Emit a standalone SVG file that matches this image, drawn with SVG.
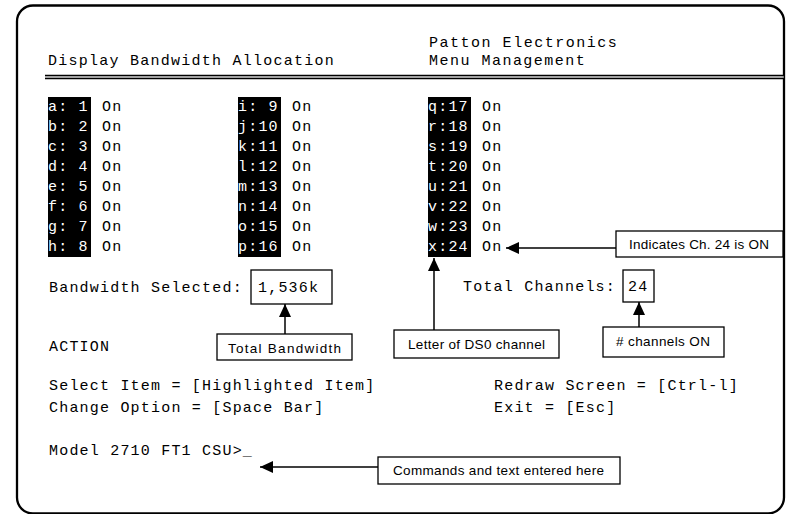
<svg xmlns="http://www.w3.org/2000/svg" width="787" height="514" viewBox="0 0 787 514">
<style>
.m{font-family:"Liberation Mono","Courier New",monospace;font-size:15px;letter-spacing:1.2px;fill:#000}
.w{font-family:"Liberation Mono","Courier New",monospace;font-size:15px;letter-spacing:1.2px;fill:#fff}
.s{font-family:"Liberation Sans",Arial,sans-serif;font-size:13.5px;fill:#000}
.box{fill:#fff;stroke:#000;stroke-width:1.3}
.ln{stroke:#000;stroke-width:1.5;fill:none}
.blk{fill:#000}
</style>
<defs>
<marker id="ah" markerUnits="userSpaceOnUse" markerWidth="14" markerHeight="12" refX="13" refY="6" orient="auto">
<path d="M0,0 L13,6 L0,12 Z" fill="#000"/>
</marker>
</defs>
<rect x="0" y="0" width="787" height="514" fill="#fff"/>
<g id="frame">
<rect x="17" y="5.5" width="767" height="508" rx="16" fill="none" stroke="#000" stroke-width="2.3"/>
<line x1="45" y1="75.5" x2="784" y2="75.5" stroke="#000" stroke-width="1.4"/>
<line x1="45" y1="78.5" x2="784" y2="78.5" stroke="#000" stroke-width="1.4"/>
<line x1="45" y1="77" x2="784" y2="77" stroke="#999" stroke-width="1.5"/>
</g>
<g id="header">
<text class="m" x="48" y="65" textLength="287">Display Bandwidth Allocation</text>
<text class="m" x="429" y="47" textLength="189">Patton Electronics</text>
<text class="m" x="429" y="65" textLength="157">Menu Management</text>
</g>
<g id="channels-col1">
<rect class="blk" x="48" y="97" width="43" height="160"/>
<text class="w" x="48" y="111">a: 1</text><text class="m" x="102" y="111">On</text>
<text class="w" x="48" y="131">b: 2</text><text class="m" x="102" y="131">On</text>
<text class="w" x="48" y="151">c: 3</text><text class="m" x="102" y="151">On</text>
<text class="w" x="48" y="171">d: 4</text><text class="m" x="102" y="171">On</text>
<text class="w" x="48" y="191">e: 5</text><text class="m" x="102" y="191">On</text>
<text class="w" x="48" y="211">f: 6</text><text class="m" x="102" y="211">On</text>
<text class="w" x="48" y="231">g: 7</text><text class="m" x="102" y="231">On</text>
<text class="w" x="48" y="251">h: 8</text><text class="m" x="102" y="251">On</text>
</g>
<g id="channels-col2">
<rect class="blk" x="238" y="97" width="43" height="160"/>
<text class="w" x="238" y="111">i: 9</text><text class="m" x="292" y="111">On</text>
<text class="w" x="238" y="131">j:10</text><text class="m" x="292" y="131">On</text>
<text class="w" x="238" y="151">k:11</text><text class="m" x="292" y="151">On</text>
<text class="w" x="238" y="171">l:12</text><text class="m" x="292" y="171">On</text>
<text class="w" x="238" y="191">m:13</text><text class="m" x="292" y="191">On</text>
<text class="w" x="238" y="211">n:14</text><text class="m" x="292" y="211">On</text>
<text class="w" x="238" y="231">o:15</text><text class="m" x="292" y="231">On</text>
<text class="w" x="238" y="251">p:16</text><text class="m" x="292" y="251">On</text>
</g>
<g id="channels-col3">
<rect class="blk" x="428" y="97" width="43" height="160"/>
<text class="w" x="428" y="111">q:17</text><text class="m" x="482" y="111">On</text>
<text class="w" x="428" y="131">r:18</text><text class="m" x="482" y="131">On</text>
<text class="w" x="428" y="151">s:19</text><text class="m" x="482" y="151">On</text>
<text class="w" x="428" y="171">t:20</text><text class="m" x="482" y="171">On</text>
<text class="w" x="428" y="191">u:21</text><text class="m" x="482" y="191">On</text>
<text class="w" x="428" y="211">v:22</text><text class="m" x="482" y="211">On</text>
<text class="w" x="428" y="231">w:23</text><text class="m" x="482" y="231">On</text>
<text class="w" x="428" y="251">x:24</text><text class="m" x="482" y="251">On</text>
</g>
<g id="bandwidth">
<text class="m" x="49" y="292">Bandwidth Selected:</text>
<rect class="box" x="251" y="270" width="81" height="34"/>
<text class="m" x="258" y="292">1,536k</text>
</g>
<g id="total-channels">
<text class="m" x="463" y="291">Total Channels:</text>
<rect class="box" x="623" y="270" width="31" height="32"/>
<text class="m" x="628" y="291">24</text>
</g>
<g id="menu">
<text class="m" x="49" y="351">ACTION</text>
<text class="m" x="49" y="390">Select Item = [Highlighted Item]</text>
<text class="m" x="49" y="412">Change Option = [Space Bar]</text>
<text class="m" x="494" y="390">Redraw Screen = [Ctrl-l]</text>
<text class="m" x="494" y="412">Exit = [Esc]</text>
<text class="m" x="49" y="455">Model 2710 FT1 CSU&gt;_</text>
</g>
<g id="note-total-bandwidth">
<rect class="box" x="217" y="334" width="135" height="26"/>
<text class="s" x="228" y="353" textLength="113" lengthAdjust="spacing">Total Bandwidth</text>
</g>
<g id="note-letter">
<rect class="box" x="394" y="330" width="165" height="28"/>
<text class="s" x="408" y="349" textLength="137" lengthAdjust="spacing">Letter of DS0 channel</text>
</g>
<g id="note-channels-on">
<rect class="box" x="603" y="327" width="121" height="30"/>
<text class="s" x="616" y="346" textLength="94" lengthAdjust="spacing"># channels ON</text>
</g>
<g id="note-indicates">
<rect class="box" x="616" y="231" width="167" height="26"/>
<text class="s" x="629" y="249" textLength="140" lengthAdjust="spacing">Indicates Ch. 24 is ON</text>
</g>
<g id="note-commands">
<rect class="box" x="378" y="457" width="242" height="27"/>
<text class="s" x="393" y="475" textLength="211" lengthAdjust="spacing">Commands and text entered here</text>
</g>
<g id="connectors">
<line class="ln" x1="285" y1="334" x2="285" y2="304" marker-end="url(#ah)"/>
<line class="ln" x1="434" y1="330" x2="434" y2="258" marker-end="url(#ah)"/>
<line class="ln" x1="639" y1="327" x2="639" y2="302" marker-end="url(#ah)"/>
<line class="ln" x1="616" y1="248" x2="506" y2="248" marker-end="url(#ah)"/>
<line class="ln" x1="378" y1="467" x2="260" y2="467" marker-end="url(#ah)"/>
</g>
</svg>
